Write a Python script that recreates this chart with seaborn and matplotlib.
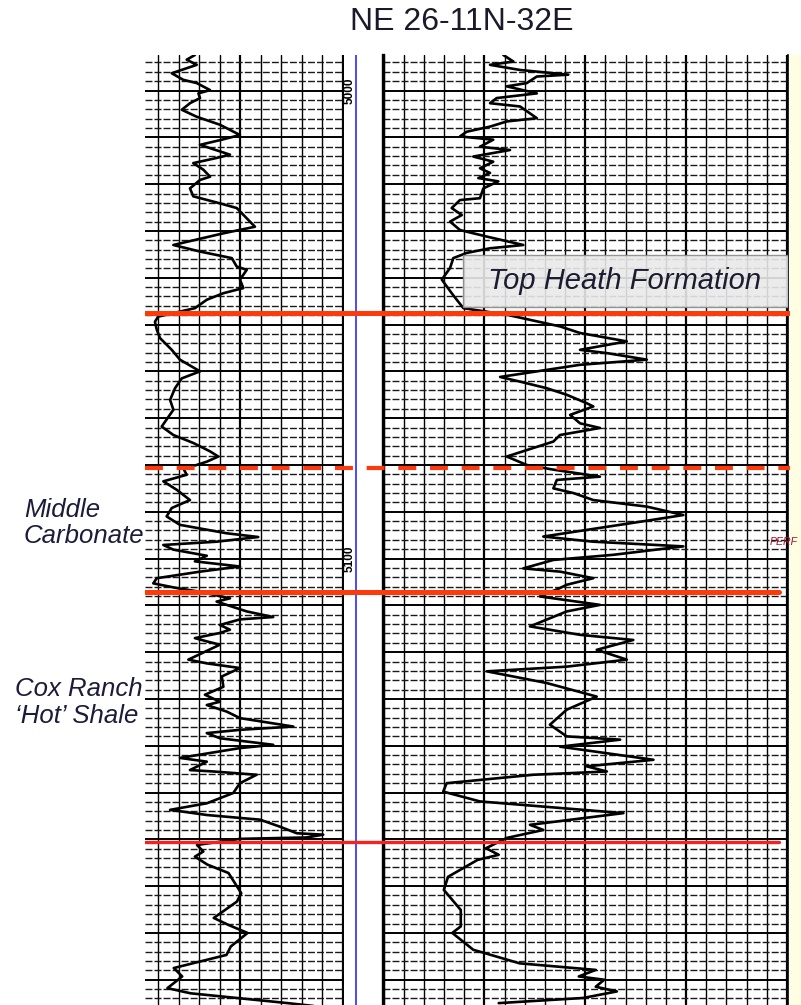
import numpy as np
import pandas as pd
import matplotlib
matplotlib.use("Agg")
import matplotlib.pyplot as plt
import seaborn as sns
from matplotlib.ticker import MultipleLocator
from matplotlib.patches import Rectangle

sns.set_theme(style="white")
plt.rcParams["font.family"] = ["Liberation Sans", "DejaVu Sans"]

title = "NE 26-11N-32E"

# left track curve (depth ft, chart divisions 0-10)
gr_depth = [4992.4, 4993.4, 4994.5, 4996.3, 4997.7, 4998.4, 4999.9, 5000.6, 5001.6, 5002.7,
            5004.1, 5005.6, 5007.3, 5009.5, 5010.5, 5011.6, 5013.7, 5014.4, 5015.5, 5016.9,
            5018.4, 5019.1, 5020.9, 5022.6, 5024.1, 5025.1, 5029.1, 5030.5, 5033.0, 5034.4,
            5035.8, 5037.6, 5038.3, 5040.4, 5042.2, 5043.3, 5044.7, 5046.5, 5048.3, 5049.4,
            5051.1, 5052.9, 5055.4, 5057.5, 5060.0, 5061.5, 5063.6, 5066.1, 5068.2, 5071.8,
            5073.6, 5075.3, 5077.1, 5078.2, 5079.3, 5080.0, 5080.7, 5082.1, 5083.5, 5085.3,
            5087.5, 5089.2, 5091.0, 5092.8, 5094.6, 5095.4, 5096.4, 5097.1, 5098.1, 5099.4,
            5100.6, 5101.7, 5102.8, 5104.2, 5105.3, 5106.3, 5107.1, 5108.5, 5109.2, 5111.3,
            5112.5, 5113.0, 5114.2, 5115.2, 5115.9, 5117.0, 5117.7, 5118.4, 5121.6, 5122.4,
            5123.4, 5125.2, 5127.4, 5129.1, 5130.6, 5131.3, 5132.7, 5134.1, 5135.9, 5136.6,
            5137.3, 5138.4, 5139.8, 5140.5, 5142.6, 5143.4, 5145.2, 5145.5, 5146.2, 5148.0,
            5150.1, 5152.3, 5153.7, 5154.8, 5155.8, 5157.3, 5158.7, 5159.0, 5159.6, 5159.9,
            5161.2, 5162.6, 5163.7, 5165.4, 5167.2, 5171.5, 5173.3, 5176.8, 5178.3, 5180.0,
            5182.9, 5184.7, 5187.5, 5189.3, 5191.8, 5192.9, 5195.0, 5196.0]
gr_value = [2.80, 2.40, 2.89, 1.67, 2.23, 2.89, 3.54, 2.97, 3.05, 2.56,
            2.16, 2.89, 4.02, 5.00, 4.11, 3.05, 4.51, 3.86, 2.72, 3.21,
            3.54, 3.05, 2.56, 2.72, 4.02, 4.84, 5.73, 4.19, 1.75, 3.05,
            4.60, 4.84, 5.33, 5.00, 5.16, 4.19, 3.38, 2.80, 1.01, 0.85,
            0.94, 1.10, 1.67, 2.07, 3.05, 2.16, 1.83, 1.59, 1.75, 1.18,
            1.75, 2.72, 3.54, 3.94, 3.38, 2.89, 2.23, 2.40, 1.26, 1.91,
            2.56, 1.67, 1.42, 2.07, 4.35, 5.89, 3.86, 1.26, 1.75, 3.38,
            2.80, 5.00, 3.05, 0.94, 0.77, 1.91, 3.05, 4.51, 3.86, 5.33,
            6.62, 5.00, 4.02, 4.51, 4.02, 2.80, 3.38, 4.02, 2.48, 3.38,
            5.00, 4.11, 4.19, 3.29, 4.02, 3.38, 4.35, 5.00, 7.60, 5.00,
            3.38, 4.02, 6.62, 5.00, 2.07, 3.38, 2.56, 3.70, 5.81, 5.00,
            4.67, 3.38, 1.59, 3.38, 5.98, 6.95, 7.77, 9.06, 8.25, 5.00,
            2.90, 3.21, 2.80, 3.41, 4.44, 5.06, 4.85, 3.72, 4.44, 5.37,
            4.55, 4.34, 1.77, 2.18, 1.46, 2.59, 7.33, 9.39]

# right track curve (depth ft, chart divisions 0-20)
res_depth = [4992.4, 4993.8, 4994.5, 4995.6, 4996.6, 4997.0, 4998.4, 4999.1, 5000.6, 5001.6,
             5002.7, 5003.4, 5005.9, 5006.6, 5007.7, 5008.8, 5009.8, 5010.5, 5012.0, 5012.7,
             5014.1, 5015.2, 5016.6, 5017.6, 5018.7, 5019.4, 5020.9, 5023.0, 5023.4, 5025.1,
             5026.6, 5028.0, 5029.8, 5031.2, 5033.0, 5033.7, 5034.7, 5035.8, 5037.9, 5040.4,
             5043.3, 5044.7, 5046.5, 5047.9, 5050.4, 5051.8, 5053.6, 5055.4, 5056.1, 5057.5,
             5058.6, 5061.2, 5062.2, 5063.6, 5065.0, 5066.8, 5067.5, 5069.3, 5071.1, 5072.1,
             5073.6, 5075.0, 5078.2, 5080.0, 5081.0, 5082.5, 5083.2, 5085.0, 5086.0, 5087.5,
             5088.9, 5090.7, 5091.7, 5095.3, 5096.4, 5097.4, 5099.2, 5100.3, 5102.1, 5102.8,
             5104.2, 5105.6, 5106.3, 5108.1, 5109.2, 5109.9, 5111.3, 5114.5, 5116.3, 5117.4,
             5119.5, 5121.6, 5123.1, 5124.1, 5126.6, 5129.5, 5132.3, 5135.5, 5138.0, 5138.7,
             5140.2, 5143.0, 5144.4, 5145.5, 5146.2, 5148.0, 5149.8, 5151.9, 5154.4, 5156.9,
             5158.0, 5159.7, 5161.9, 5163.3, 5164.4, 5168.0, 5170.8, 5175.1, 5178.6, 5180.0,
             5183.6, 5186.5, 5187.9, 5189.3, 5190.0, 5191.5, 5192.5, 5193.9, 5195.0]
res_value = [5.94, 6.44, 5.28, 6.77, 9.16, 7.60, 7.10, 6.11, 7.60, 5.61,
             5.28, 6.77, 7.60, 6.11, 5.28, 4.12, 3.79, 5.44, 4.78, 6.27,
             4.45, 5.44, 4.78, 5.28, 4.70, 5.69, 4.95, 4.78, 3.79, 3.38,
             3.88, 3.30, 3.79, 5.12, 6.93, 5.28, 4.12, 3.46, 3.30, 2.89,
             3.38, 3.63, 3.96, 6.11, 8.75, 9.74, 12.06, 9.74, 11.07, 13.05,
             9.74, 5.78, 6.77, 8.09, 9.08, 10.07, 10.40, 9.25, 9.74, 10.73,
             8.75, 8.42, 6.11, 7.10, 8.42, 10.73, 8.59, 8.42, 9.41, 10.40,
             13.05, 14.86, 13.38, 7.92, 10.40, 14.86, 11.39, 8.42, 6.93, 8.75,
             10.40, 9.08, 8.75, 7.76, 9.58, 10.73, 9.08, 7.26, 9.74, 12.38,
             10.57, 12.06, 9.08, 5.12, 8.09, 10.57, 9.08, 8.25, 9.08, 11.73,
             8.75, 13.38, 10.07, 11.07, 7.43, 3.13, 2.96, 4.78, 11.89, 7.26,
             7.92, 6.11, 5.08, 5.71, 4.66, 3.20, 2.99, 3.83, 3.83, 3.41,
             4.45, 6.75, 10.52, 9.68, 10.94, 10.52, 11.57, 9.89, 5.71]

depth_labels = [5000, 5100]
tops_depth = [5047.5, 5080.6, 5107.2, 5160.5]
tops_style = ["-", (0, (4.3, 3.3)), "-", "-"]
tops_color = ["#ff3a0a", "#ff3a0a", "#ff3a0a", "#f52222"]
tops_width = [3.6, 3.0, 3.6, 2.4]
tops_end = [0.983, 0.983, 0.966, 0.966]

zone_names = ["Middle\nCarbonate", "Cox Ranch\n\u2018Hot\u2019 Shale"]
zone_depth = [5092.4, 5130.8]
zone_x = [24, 15]
top_name = "Top Heath Formation"
perf_depth = 5096.4

d_top, d_bot = 4992.4, 5195.4

W, H = 801, 1005
fig = plt.figure(figsize=(W / 100, H / 100), dpi=100)
fig.patch.set_facecolor("white")

def fy(d):
    # depth -> figure fraction
    return (d_bot - d) / (d_bot - d_top) * (950 / H)

plot_h = 950 / H
ax1 = fig.add_axes([145 / W, 0, (344 - 145) / W, plot_h])
axd = fig.add_axes([344 / W, 0, (382.5 - 344) / W, plot_h])
ax2 = fig.add_axes([382.5 / W, 0, (788 - 382.5) / W, plot_h])

gr = pd.DataFrame({"depth": gr_depth, "value": gr_value})
res = pd.DataFrame({"depth": res_depth, "value": res_value})
sns.lineplot(data=gr, x="value", y="depth", ax=ax1, sort=False, orient="y",
             estimator=None, color="black", lw=1.9, zorder=3)
sns.lineplot(data=res, x="value", y="depth", ax=ax2, sort=False, orient="y",
             estimator=None, color="black", lw=1.9, zorder=3)

for ax in (ax1, ax2):
    ax.set_ylim(d_bot, d_top)
    ax.xaxis.set_major_locator(MultipleLocator(5))
    ax.xaxis.set_minor_locator(MultipleLocator(1))
    ax.yaxis.set_major_locator(MultipleLocator(10))
    ax.yaxis.set_minor_locator(MultipleLocator(2))
    ax.grid(which="minor", axis="x", color="black", lw=1.0)
    ax.grid(which="major", axis="x", color="black", lw=1.6)
    ax.grid(which="minor", axis="y", color="#1a1a1a", lw=1.0, ls=(0, (5, 1.5)))
    ax.grid(which="major", axis="y", color="black", lw=1.4)
    ax.tick_params(which="both", length=0, labelleft=False, labelbottom=False)
    ax.set_xlabel("")
    ax.set_ylabel("")
    for s in ax.spines.values():
        s.set_visible(False)

ax1.set_xlim((145 - 137.5) / 20.5, (344 - 137.5) / 20.5)
ax2.set_xlim(-0.05, 20.05)
ax2.spines["left"].set_visible(True)
ax2.spines["left"].set_color("black")
ax2.spines["left"].set_linewidth(2.4)
ax2.spines["right"].set_visible(True)
ax2.spines["right"].set_color("black")
ax2.spines["right"].set_linewidth(1.2)

# depth track
axd.set_xlim(0, 1)
axd.set_ylim(d_bot, d_top)
axd.axis("off")
axd.axvline(0.31, color="#3b3bff", lw=1.3)
for dl in depth_labels:
    axd.text(0.15, dl, str(dl), rotation=90, ha="center", va="center",
             fontsize=8.5, fontweight="bold", color="black")

# Top Heath label box
ax2.add_patch(Rectangle((3.94, 5035.1), 16.1, 11.1, facecolor="#e9e9e9",
                        edgecolor="#8a8a8a", lw=1.0, alpha=0.9, zorder=4))
ax2.text(11.95, 5040.6, top_name, ha="center", va="center", fontsize=21,
         style="italic", color="#1c1c30", zorder=5)

# formation tops across the tracks
axo = fig.add_axes([145 / W, 0, (W - 145) / W, plot_h], facecolor="none")
axo.set_xlim(0, 1)
axo.set_ylim(d_bot, d_top)
axo.axis("off")
for d, ls, c, lw, xe in zip(tops_depth, tops_style, tops_color, tops_width, tops_end):
    axo.axhline(d, xmin=0, xmax=xe, color=c, lw=lw, ls=ls, zorder=6)

# pale strip at right edge
fig.patches.append(Rectangle((790 / W, 0), (W - 790) / W, plot_h, transform=fig.transFigure,
                             facecolor="#fffde2", edgecolor="none", zorder=0))

fig.text(770 / W, fy(perf_depth), "PERF", color="#a3102c", fontsize=7.6,
         style="italic", va="center", ha="left", zorder=10)

for name, d, x in zip(zone_names, zone_depth, zone_x):
    fig.text(x / W, fy(d), name, ha="left", va="center", fontsize=18.5,
             style="italic", color="#1c1c3a", linespacing=1.15)

fig.text(462 / W, 1 - 22 / H, title, ha="center", va="center", fontsize=23,
         color="#1a1a2a")

fig.savefig("out.png", dpi=100, facecolor="white")
